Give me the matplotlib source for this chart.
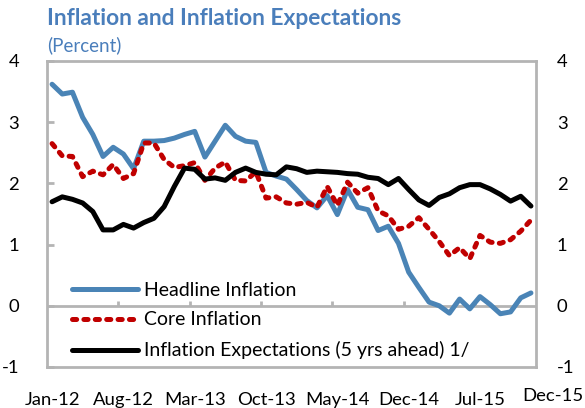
import matplotlib
matplotlib.use("Agg")
import matplotlib.pyplot as plt
import numpy as np

plt.rcParams['font.family'] = ['Lato', 'DejaVu Sans']
plt.rcParams['lines.scale_dashes'] = False

months = ["Jan-12","Feb-12","Mar-12","Apr-12","May-12","Jun-12","Jul-12","Aug-12","Sep-12","Oct-12","Nov-12","Dec-12",
          "Jan-13","Feb-13","Mar-13","Apr-13","May-13","Jun-13","Jul-13","Aug-13","Sep-13","Oct-13","Nov-13","Dec-13",
          "Jan-14","Feb-14","Mar-14","Apr-14","May-14","Jun-14","Jul-14","Aug-14","Sep-14","Oct-14","Nov-14","Dec-14",
          "Jan-15","Feb-15","Mar-15","Apr-15","May-15","Jun-15","Jul-15","Aug-15","Sep-15","Oct-15","Nov-15","Dec-15"]

headline = [3.62, 3.46, 3.49, 3.08, 2.80, 2.44, 2.59, 2.48, 2.24, 2.69, 2.69, 2.70,
            2.74, 2.80, 2.85, 2.43, 2.69, 2.95, 2.77, 2.69, 2.67, 2.18, 2.12, 2.07,
            1.90, 1.72, 1.60, 1.80, 1.49, 1.90, 1.61, 1.57, 1.23, 1.30, 1.02, 0.55,
            0.30, 0.06, 0.00, -0.12, 0.11, -0.05, 0.15, 0.02, -0.13, -0.10, 0.13, 0.21]

core = [2.65, 2.45, 2.44, 2.11, 2.20, 2.14, 2.31, 2.08, 2.16, 2.66, 2.66, 2.39,
        2.26, 2.29, 2.34, 2.05, 2.25, 2.35, 2.05, 2.04, 2.19, 1.76, 1.78, 1.68,
        1.66, 1.69, 1.61, 1.95, 1.64, 2.02, 1.84, 1.93, 1.55, 1.47, 1.25, 1.30,
        1.44, 1.25, 1.05, 0.82, 0.95, 0.77, 1.15, 1.04, 1.02, 1.08, 1.22, 1.40]

expectations = [1.70, 1.78, 1.74, 1.68, 1.54, 1.24, 1.24, 1.33, 1.27, 1.36, 1.43, 1.62,
                1.95, 2.25, 2.23, 2.07, 2.09, 2.05, 2.18, 2.25, 2.18, 2.15, 2.14, 2.27,
                2.24, 2.18, 2.20, 2.19, 2.18, 2.16, 2.15, 2.10, 2.08, 1.98, 2.08, 1.90,
                1.73, 1.64, 1.77, 1.83, 1.93, 1.98, 1.98, 1.91, 1.82, 1.71, 1.79, 1.63]

series_names = ["Headline Inflation", "Core Inflation", "Inflation Expectations (5 yrs ahead) 1/"]
yticks = [-1, 0, 1, 2, 3, 4]
label_step = 7

blue = '#4a84b6'
red = '#c00000'
gray = '#b4b4b4'
title_color = '#4a7ebb'
fs = 13.3

fig = plt.figure(figsize=(5.85, 4.08), dpi=100)
ax = fig.add_axes([0.0803, 0.1005, 0.9163 - 0.0803, 0.8505 - 0.1005])

x = np.arange(len(months))
ax.plot(x, headline, color=blue, lw=3.6, solid_capstyle='round', solid_joinstyle='round',
        label=series_names[0], zorder=3)
ax.plot(x, core, color=red, lw=3.6, dashes=(3.0, 5.2), dash_capstyle='round',
        dash_joinstyle='round', label=series_names[1], zorder=4)
ax.plot(x, expectations, color='black', lw=3.6, solid_capstyle='round', solid_joinstyle='round',
        label=series_names[2], zorder=5)

ax.set_xlim(-0.5, len(months) - 0.5)
ax.set_ylim(-1, 4)

# zero line with category tick marks
ax.axhline(0, color=gray, lw=2, zorder=1)
bounds = np.arange(-0.5, len(months) - 0.5, label_step)[1:]
ax.vlines(bounds, 0, 0.085, color=gray, lw=2, zorder=1)

for s in ax.spines.values():
    s.set_color(gray)
    s.set_linewidth(2)

ax.set_yticks(yticks)
ax.set_yticklabels([str(v) for v in yticks], fontsize=fs)
ax.tick_params(axis='y', direction='in', length=5, width=2, color=gray, pad=20)

lab_idx = list(range(0, len(months) - 1, label_step))
ax.set_xticks(lab_idx)
ax.set_xticklabels([months[i] for i in lab_idx], fontsize=fs)
ax.tick_params(axis='x', length=0, pad=18)
fig.text(0.998, 0.03, months[-1], ha='right', va='center', fontsize=fs)

ax2 = ax.twinx()
ax2.set_ylim(-1, 4)
ax2.set_yticks(yticks)
ax2.set_yticklabels([str(v) for v in yticks], fontsize=fs)
ax2.tick_params(axis='y', length=0, pad=15)
for s in ax2.spines.values():
    s.set_visible(False)

leg = ax.legend(loc='upper left', bbox_to_anchor=(0.051, 0.279), frameon=False, fontsize=14,
                handlelength=3.4, handletextpad=0.3, labelspacing=0.66, borderpad=0, borderaxespad=0)

fig.text(0.080, 0.955, "Inflation and Inflation Expectations", fontsize=16.4, fontweight='bold',
         color=title_color, ha='left', va='center')
fig.text(0.080, 0.888, "(Percent)", fontsize=13.5, color=title_color, ha='left', va='center')

fig.savefig("out.png", dpi=100)
